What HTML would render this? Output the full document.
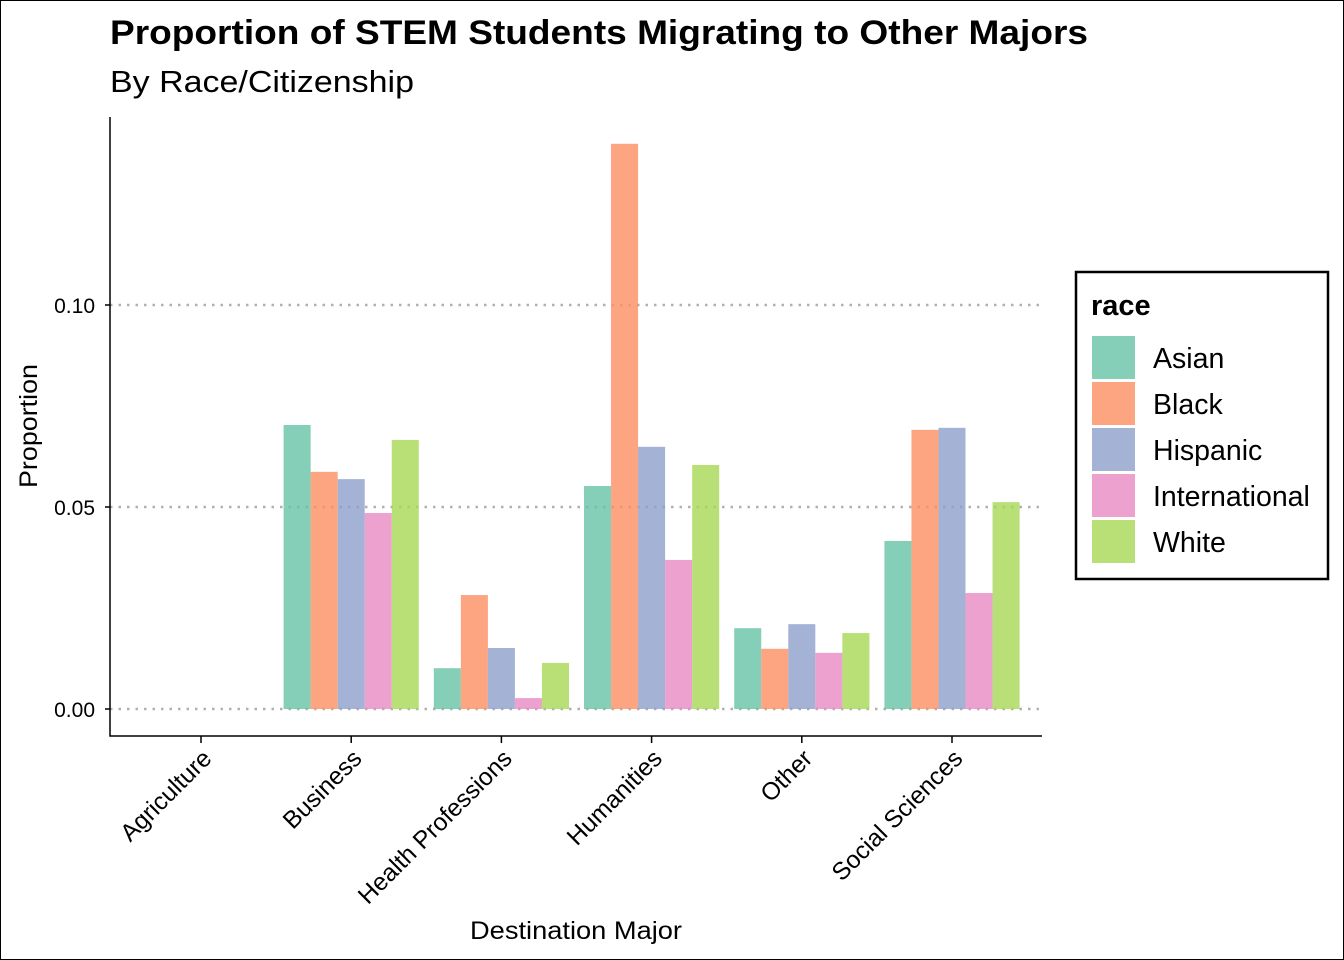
<!DOCTYPE html>
<html><head><meta charset="utf-8"><style>
body{margin:0;background:#fff}
svg{display:block;font-family:"Liberation Sans",Arial,sans-serif}
</style></head><body>
<svg id="c" width="1344" height="960" xmlns="http://www.w3.org/2000/svg">
<rect x="0.5" y="0.5" width="1343" height="959" fill="#fff" stroke="#000"/>
<text x="110" y="44" font-size="34" font-weight="bold" textLength="978" lengthAdjust="spacingAndGlyphs">Proportion of STEM Students Migrating to Other Majors</text>
<text x="110" y="92" font-size="31" textLength="304" lengthAdjust="spacingAndGlyphs">By Race/Citizenship</text>
<g id="grid"></g><g id="bars"></g><g id="axes"></g>
<text transform="translate(37,426) rotate(-90)" text-anchor="middle" font-size="25" textLength="124" lengthAdjust="spacingAndGlyphs">Proportion</text>
<text x="576" y="939" text-anchor="middle" font-size="25" textLength="212" lengthAdjust="spacingAndGlyphs">Destination Major</text>
<g id="legend"></g>
</svg>
<script>
const categories=["Agriculture","Business","Health Professions","Humanities","Other","Social Sciences"];
const races=["Asian","Black","Hispanic","International","White"];
const asian=[0,0.0703,0.0101,0.0552,0.0200,0.0416];
const black=[0,0.0587,0.0282,0.1399,0.0149,0.0691];
const hispanic=[0,0.0569,0.0151,0.0649,0.0210,0.0696];
const international=[0,0.0485,0.0027,0.0369,0.0139,0.0287];
const white=[0,0.0666,0.0114,0.0604,0.0188,0.0512];
const yTicks=[0,0.05,0.10];
const yTickLabels=["0.00","0.05","0.10"];
const colors=["#66C2A5","#FC8D62","#8DA0CB","#E78AC3","#A6D854"];
const series=[asian,black,hispanic,international,white];
const NS="http://www.w3.org/2000/svg";
const L=110,R=1042,B=736,T=117;
const y=v=>709-v*4040;
const step=150.2;
const x=i=>201+step*i;
function mk(tag,attrs,parent){const e=document.createElementNS(NS,tag);for(const k in attrs)e.setAttribute(k,attrs[k]);document.getElementById(parent).appendChild(e);return e;}
yTicks.forEach((t,i)=>{
 const g=mk("line",{x1:L,x2:R,y1:y(t),y2:y(t),stroke:"#b0b0b0","stroke-width":2.5,"stroke-dasharray":"2.5 6"},"grid");
 
 
 const tk=mk("line",{x1:L-5,x2:L,y1:y(t),y2:y(t),stroke:"#000","stroke-width":1.5},"axes");
 
 
 const tl=mk("text",{x:L-15,y:y(t)+8,"text-anchor":"end","font-size":21},"axes");
 tl.textContent=yTickLabels[i];
 
 
});
const bw=step*0.9/races.length;
categories.forEach((c,i)=>{
 series.forEach((s,j)=>{
  const x0=x(i)-step*0.45+j*bw;
  const h=Math.max(0,709-y(s[i]));
  const r=mk("rect",{x:x0,y:y(s[i]),width:bw,height:h,fill:colors[j],"fill-opacity":0.8},"bars");
  
  
 });
 const tk=mk("line",{x1:x(i),x2:x(i),y1:B,y2:B+7,stroke:"#000","stroke-width":1.5},"axes");
 
 
 const tl=mk("text",{transform:`translate(${x(i)+12},${B+24}) rotate(-45)`,"text-anchor":"end","font-size":24.5},"axes");
 tl.textContent=c;
 
 
});
const ax=mk("path",{d:`M${L},${T}V${B}H${R}`,fill:"none",stroke:"#000","stroke-width":1.5},"axes");


const lb=mk("rect",{x:1076,y:272,width:252,height:307,fill:"#fff",stroke:"#000","stroke-width":2.5},"legend");


const lt=mk("text",{x:1091,y:315,"font-size":29,"font-weight":"bold"},"legend");
lt.textContent="race";


races.forEach((r,j)=>{
 const k=mk("rect",{x:1092,y:336+j*46,width:43,height:43,fill:colors[j],"fill-opacity":0.8},"legend");
 
 
 const t=mk("text",{x:1153,y:368+j*46,"font-size":28.5},"legend");
 t.textContent=r;
 
 
});
</script>
</body></html>
